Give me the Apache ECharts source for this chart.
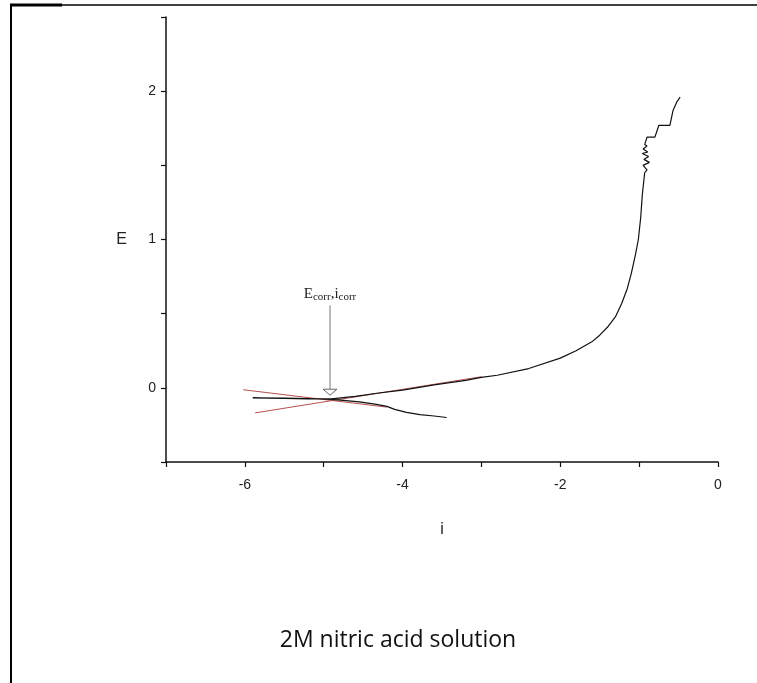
<!DOCTYPE html>
<html>
<head>
<meta charset="utf-8">
<script src="https://cdn.jsdelivr.net/npm/echarts@6/dist/echarts.min.js"></script>
<style>
html,body{margin:0;padding:0;background:#fff;}
#c{width:757px;height:683px;}
</style>
</head>
<body>
<div id="c"></div>
<script>
// Polarization curve (log i vs E), black measured curve
const curveI = [-3.44,-3.6,-3.78,-3.95,-4.1,-4.2,-4.35,-4.55,-4.75,-4.9,-5.2,-5.5,-5.9,
  -5.5,-5.2,-4.9,-4.6,-4.3,-4.0,-3.6,-3.2,-3.0,-2.8,-2.4,-2.0,-1.8,-1.6,-1.5,-1.4,-1.3,-1.22,-1.15,-1.1,-1.05,-1.01,-0.98,-0.96,
  -0.93,-0.90,-0.95,-0.87,-0.94,-0.88,-0.96,-0.89,-0.95,-0.90,-0.93,-0.90,-0.80,-0.75,-0.61,-0.57,-0.52,-0.48];
const curveE = [-0.20,-0.19,-0.18,-0.165,-0.145,-0.125,-0.11,-0.095,-0.085,-0.078,-0.072,-0.069,-0.068,
  -0.072,-0.074,-0.075,-0.058,-0.035,-0.015,0.02,0.05,0.07,0.085,0.13,0.20,0.25,0.31,0.355,0.41,0.48,0.57,0.67,0.77,0.89,1.0,1.15,1.30,
  1.45,1.47,1.50,1.52,1.54,1.56,1.58,1.59,1.61,1.63,1.64,1.69,1.69,1.77,1.77,1.87,1.93,1.96];
// Tafel extrapolation lines
const anodicTafelI = [-5.87,-3.0];
const anodicTafelE = [-0.169,0.075];
const cathodicTafelI = [-6.02,-4.2];
const cathodicTafelE = [-0.013,-0.13];
// Corrosion point annotation
const corrPoint = [-4.92, -0.07];
const corrLabelE = 0.63;
const xTicks = [-6,-4,-2,0];
const yTicks = [0,1,2];
const titleText = '2M nitric acid solution';

const zip = (a,b)=>a.map((v,i)=>[v,b[i]]);
const chart = echarts.init(document.getElementById('c'), null, {renderer:'canvas'});
const axisCommon = {
  axisLine:{show:true,onZero:false,lineStyle:{color:'#111',width:1.5}},
  axisTick:{show:true,inside:false,length:5,lineStyle:{color:'#111',width:1.2}},
  splitLine:{show:false},
  nameTextStyle:{color:'#222',fontSize:16,fontFamily:'Liberation Sans'},
};
chart.setOption({
  animation:false,
  backgroundColor:'#fff',
  grid:{left:166,right:39,top:17,bottom:221,containLabel:false},
  xAxis:Object.assign({}, axisCommon, {
    type:'value', min:-7, max:0, interval:1,
    name:'i', nameLocation:'middle', nameGap:60,
    axisLabel:{color:'#222',fontSize:14,fontFamily:'Liberation Sans',margin:16,
      formatter:v=>xTicks.includes(v)?String(v):''}
  }),
  yAxis:Object.assign({}, axisCommon, {
    type:'value', min:-0.5, max:2.5, interval:0.5,
    name:'E', nameLocation:'middle', nameGap:39, nameRotate:0,
    axisLabel:{color:'#222',fontSize:14,fontFamily:'Liberation Sans',margin:10,
      formatter:v=>yTicks.includes(v)?String(v):''}
  }),
  series:[
    {type:'line',data:zip(curveI,curveE),showSymbol:false,smooth:false,
     lineStyle:{color:'#111',width:1.2},z:3},
    {type:'line',data:zip(anodicTafelI,anodicTafelE),showSymbol:false,
     lineStyle:{color:'#b5524f',width:1},z:2},
    {type:'line',data:zip(cathodicTafelI,cathodicTafelE),showSymbol:false,
     lineStyle:{color:'#b5524f',width:1},z:2}
  ]
});

const tipPx = chart.convertToPixel({gridIndex:0}, corrPoint);
const labelPx = chart.convertToPixel({gridIndex:0}, [corrPoint[0], corrLabelE]);
chart.setOption({
  graphic:[
    {type:'line',shape:{x1:10,y1:5,x2:757,y2:5},style:{stroke:'#000',lineWidth:1.5}},
    {type:'line',shape:{x1:11,y1:5,x2:11,y2:683},style:{stroke:'#000',lineWidth:2}},
    {type:'line',shape:{x1:10,y1:5,x2:62,y2:5},style:{stroke:'#000',lineWidth:3}},
    {type:'line',shape:{x1:tipPx[0],y1:labelPx[1]+11,x2:tipPx[0],y2:tipPx[1]-9},style:{stroke:'#777',lineWidth:1}},
    {type:'polygon',shape:{points:[[tipPx[0]-7,tipPx[1]-9],[tipPx[0]+7,tipPx[1]-9],[tipPx[0],tipPx[1]-3]]},
      style:{fill:'#fff',stroke:'#666',lineWidth:1}},
    {type:'text',x:tipPx[0],y:labelPx[1],style:{
      text:'{b|E}{s|corr}{b|,i}{s|corr}',
      align:'center',verticalAlign:'middle',
      rich:{b:{fontFamily:'Liberation Serif',fontSize:15,fill:'#222'},
            s:{fontFamily:'Liberation Serif',fontSize:11,fill:'#222',padding:[5,0,0,0]}}
    }},
    {type:'text',x:398,y:640,style:{text:titleText,align:'center',verticalAlign:'middle',
      fontFamily:'Open Sans',fontSize:23,fill:'#111'}}
  ]
});
</script>
</body>
</html>
